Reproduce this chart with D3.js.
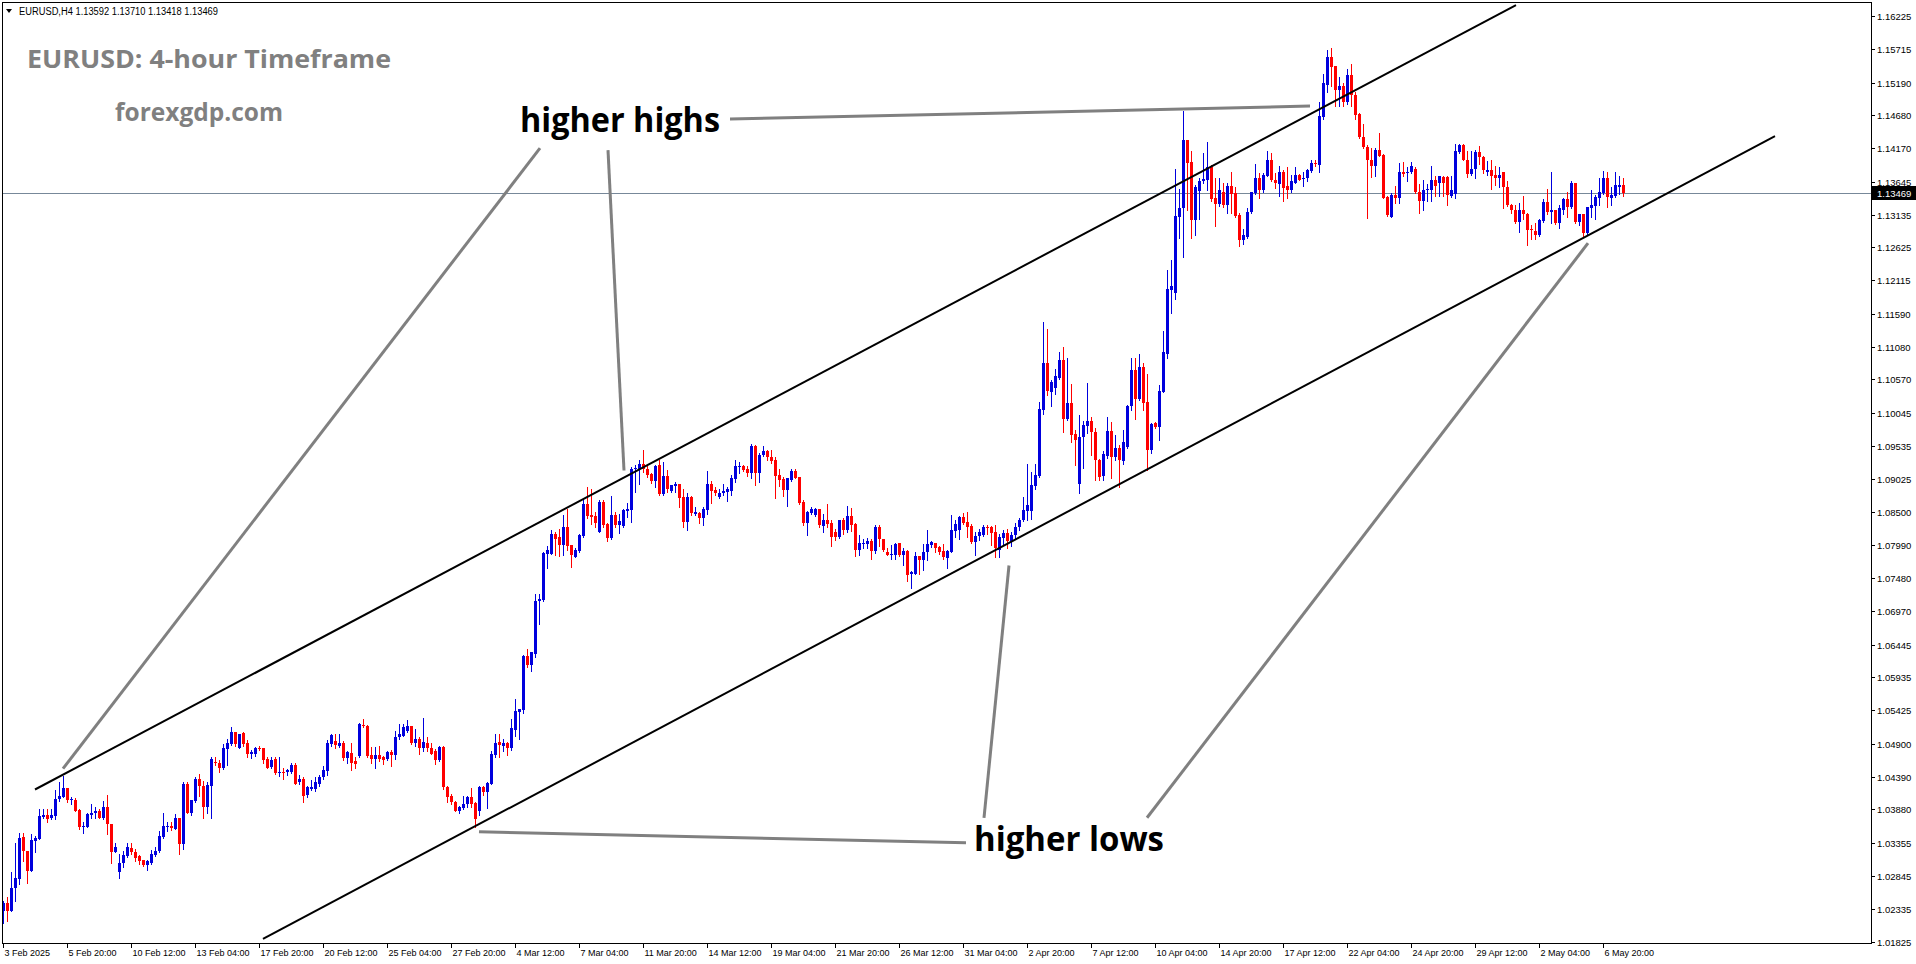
<!DOCTYPE html>
<html><head><meta charset="utf-8">
<script src="https://cdn.jsdelivr.net/npm/d3@7"></script>
<style>body{margin:0;background:#fff;overflow:hidden}svg{display:block}</style>
</head><body>
<svg id="chart" width="1916" height="964"></svg>
<script>
// EURUSD H4 candles, 3 Feb 2025 .. 7 May 2025 (index = bar number)
const open=[
1.0230,1.0243,1.0230,1.0265,1.0279,1.0345,1.0324,1.0292,1.0339,1.0342,
1.0376,1.0379,1.0374,1.0378,1.0404,1.0408,1.0421,1.0402,1.0402,1.0387,
1.0360,1.0360,1.0380,1.0383,1.0385,1.0374,1.0392,1.0365,1.0322,1.0290,
1.0304,1.0316,1.0328,1.0322,1.0315,1.0309,1.0302,1.0305,1.0317,1.0324,
1.0345,1.0360,1.0362,1.0357,1.0374,1.0334,1.0428,1.0382,1.0401,1.0435,
1.0424,1.0392,1.0425,1.0462,1.0461,1.0452,1.0482,1.0490,1.0508,1.0484,
1.0507,1.0491,1.0474,1.0474,1.0484,1.0483,1.0466,1.0454,1.0466,1.0446,
1.0447,1.0446,1.0447,1.0457,1.0430,1.0435,1.0410,1.0420,1.0420,1.0428,
1.0438,1.0448,1.0490,1.0495,1.0487,1.0492,1.0468,1.0476,1.0464,1.0471,
1.0520,1.0518,1.0473,1.0466,1.0473,1.0469,1.0466,1.0478,1.0473,1.0500,
1.0503,1.0510,1.0518,1.0492,1.0497,1.0484,1.0492,1.0483,1.0479,1.0465,
1.0485,1.0423,1.0409,1.0399,1.0385,1.0390,1.0396,1.0408,1.0398,1.0385,
1.0423,1.0415,1.0428,1.0472,1.0493,1.0486,1.0491,1.0483,1.0512,1.0540,
1.0542,1.0626,1.0612,1.0630,1.0712,1.0714,1.0785,1.0786,1.0816,1.0812,
1.0799,1.0828,1.0799,1.0781,1.0790,1.0813,1.0863,1.0846,1.0844,1.0820,
1.0867,1.0832,1.0811,1.0846,1.0830,1.0829,1.0853,1.0854,1.0917,1.0918,
1.0926,1.0918,1.0910,1.0899,1.0924,1.0879,1.0907,1.0884,1.0891,1.0894,
1.0874,1.0835,1.0874,1.0847,1.0849,1.0842,1.0854,1.0895,1.0885,1.0874,
1.0881,1.0882,1.0884,1.0902,1.0921,1.0922,1.0918,1.0912,1.0953,1.0912,
1.0939,1.0945,1.0936,1.0931,1.0908,1.0902,1.0885,1.0900,1.0915,1.0905,
1.0866,1.0834,1.0849,1.0846,1.0855,1.0829,1.0838,1.0833,1.0819,1.0812,
1.0838,1.0822,1.0844,1.0832,1.0791,1.0801,1.0801,1.0806,1.0790,1.0828,
1.0808,1.0789,1.0784,1.0784,1.0802,1.0784,1.0790,1.0755,1.0755,1.0782,
1.0776,1.0788,1.0800,1.0802,1.0796,1.0790,1.0779,1.0789,1.0821,1.0822,
1.0843,1.0835,1.0829,1.0804,1.0813,1.0815,1.0828,1.0828,1.0820,1.0791,
1.0810,1.0818,1.0805,1.0815,1.0827,1.0838,1.0853,1.0853,1.0891,1.0907,
1.1009,1.1082,1.1038,1.1043,1.1059,1.1088,1.0996,1.1020,1.0972,1.0895,
1.0967,1.0984,1.0993,1.0976,1.0932,1.0907,1.0938,1.0977,1.0937,1.0950,
1.0930,1.0952,1.1015,1.1071,1.1026,1.1077,1.1022,1.0948,1.0989,1.0983,
1.1038,1.1097,1.1196,1.1192,1.1310,1.1323,1.1429,1.1396,1.1305,1.1350,
1.1365,1.1367,1.1388,1.1339,1.1330,1.1348,1.1329,1.1358,1.1347,1.1313,
1.1274,1.1278,1.1317,1.1347,1.1370,1.1351,1.1374,1.1399,1.1368,1.1361,
1.1380,1.1358,1.1351,1.1363,1.1375,1.1370,1.1370,1.1382,1.1394,1.1391,
1.1465,1.1515,1.1559,1.1544,1.1508,1.1514,1.1489,1.1531,1.1500,1.1470,
1.1435,1.1419,1.1399,1.1389,1.1414,1.1406,1.1341,1.1310,1.1344,1.1339,
1.1380,1.1378,1.1380,1.1384,1.1348,1.1335,1.1351,1.1352,1.1368,1.1362,
1.1372,1.1372,1.1342,1.1346,1.1411,1.1422,1.1399,1.1376,1.1385,1.1411,
1.1403,1.1380,1.1383,1.1375,1.1371,1.1380,1.1357,1.1328,1.1321,1.1302,
1.1320,1.1315,1.1291,1.1288,1.1282,1.1304,1.1333,1.1318,1.1320,1.1301,
1.1321,1.1337,1.1325,1.1362,1.1302,1.1314,1.1285,1.1323,1.1327,1.1339,
1.1347,1.1370,1.1340,1.1342,1.1357,1.13592];
const high=[
1.0246,1.0251,1.0290,1.0336,1.0352,1.0352,1.0324,1.0349,1.0347,1.0388,
1.0388,1.0388,1.0388,1.0418,1.0430,1.0440,1.0422,1.0407,1.0405,1.0388,
1.0368,1.0382,1.0397,1.0392,1.0388,1.0401,1.0410,1.0365,1.0336,1.0318,
1.0324,1.0336,1.0336,1.0326,1.0317,1.0310,1.0310,1.0325,1.0330,1.0355,
1.0382,1.0368,1.0368,1.0381,1.0375,1.0430,1.0430,1.0402,1.0439,1.0443,
1.0432,1.0430,1.0469,1.0470,1.0465,1.0490,1.0497,1.0516,1.0508,1.0506,
1.0508,1.0496,1.0480,1.0485,1.0487,1.0484,1.0469,1.0469,1.0469,1.0469,
1.0452,1.0451,1.0460,1.0461,1.0442,1.0438,1.0425,1.0434,1.0439,1.0442,
1.0455,1.0496,1.0506,1.0506,1.0506,1.0494,1.0479,1.0492,1.0469,1.0522,
1.0528,1.0520,1.0485,1.0485,1.0487,1.0471,1.0479,1.0480,1.0510,1.0521,
1.0521,1.0527,1.0518,1.0513,1.0500,1.0531,1.0500,1.0492,1.0482,1.0487,
1.0487,1.0425,1.0412,1.0401,1.0394,1.0409,1.0409,1.0421,1.0399,1.0425,
1.0425,1.0431,1.0479,1.0505,1.0505,1.0498,1.0493,1.0529,1.0560,1.0545,
1.0628,1.0638,1.0633,1.0723,1.0723,1.0789,1.0798,1.0822,1.0820,1.0825,
1.0846,1.0856,1.0799,1.0794,1.0816,1.0870,1.0889,1.0887,1.0851,1.0869,
1.0870,1.0833,1.0875,1.0851,1.0848,1.0855,1.0864,1.0921,1.0924,1.0931,
1.0948,1.0922,1.0911,1.0924,1.0932,1.0929,1.0916,1.0893,1.0898,1.0895,
1.0886,1.0880,1.0875,1.0859,1.0851,1.0859,1.0915,1.0899,1.0889,1.0886,
1.0895,1.0889,1.0908,1.0931,1.0928,1.0924,1.0922,1.0956,1.0955,1.0942,
1.0953,1.0947,1.0947,1.0937,1.0918,1.0905,1.0904,1.0917,1.0918,1.0905,
1.0869,1.0853,1.0859,1.0857,1.0856,1.0847,1.0863,1.0839,1.0825,1.0839,
1.0841,1.0860,1.0857,1.0833,1.0815,1.0808,1.0811,1.0808,1.0830,1.0830,
1.0809,1.0794,1.0799,1.0802,1.0803,1.0794,1.0791,1.0759,1.0789,1.0783,
1.0801,1.0822,1.0806,1.0803,1.0798,1.0801,1.0792,1.0846,1.0839,1.0844,
1.0849,1.0851,1.0832,1.0820,1.0825,1.0830,1.0830,1.0829,1.0830,1.0816,
1.0822,1.0825,1.0820,1.0833,1.0842,1.0874,1.0925,1.0913,1.0925,1.1022,
1.1147,1.1135,1.1056,1.1073,1.1100,1.1108,1.1091,1.1050,1.0978,1.1002,
1.0993,1.1051,1.0998,1.0981,1.0934,1.0945,1.0999,1.0991,1.0970,1.0955,
1.0979,1.1017,1.1090,1.1090,1.1097,1.1082,1.1066,1.0990,1.0991,1.1048,
1.1133,1.1228,1.1243,1.1384,1.1354,1.1474,1.1430,1.1413,1.1360,1.1370,
1.1409,1.1426,1.1391,1.1370,1.1370,1.1363,1.1362,1.1379,1.1356,1.1316,
1.1291,1.1323,1.1349,1.1392,1.1378,1.1378,1.1413,1.1410,1.1378,1.1389,
1.1383,1.1387,1.1375,1.1388,1.1377,1.1380,1.1384,1.1399,1.1398,1.1488,
1.1532,1.1569,1.1572,1.1545,1.1528,1.1518,1.1540,1.1548,1.1505,1.1471,
1.1455,1.1422,1.1417,1.1417,1.1440,1.1408,1.1342,1.1347,1.1358,1.1394,
1.1396,1.1387,1.1396,1.1387,1.1361,1.1368,1.1361,1.1389,1.1374,1.1373,
1.1373,1.1373,1.1373,1.1423,1.1424,1.1424,1.1413,1.1413,1.1414,1.1420,
1.1405,1.1397,1.1399,1.1389,1.1388,1.1380,1.1365,1.1330,1.1328,1.1332,
1.1342,1.1316,1.1297,1.1301,1.1306,1.1337,1.1354,1.1380,1.1321,1.1328,
1.1339,1.1349,1.1365,1.1363,1.1315,1.1315,1.1326,1.1351,1.1344,1.1370,
1.1382,1.1379,1.1356,1.1379,1.1373,1.13710];
const low=[
1.0212,1.0214,1.0230,1.0246,1.0272,1.0308,1.0273,1.0292,1.0321,1.0342,
1.0375,1.0369,1.0373,1.0373,1.0401,1.0407,1.0399,1.0396,1.0385,1.0357,
1.0352,1.0360,1.0375,1.0375,1.0374,1.0373,1.0349,1.0305,1.0321,1.0282,
1.0298,1.0314,1.0318,1.0308,1.0303,1.0300,1.0293,1.0303,1.0316,1.0322,
1.0344,1.0355,1.0356,1.0357,1.0318,1.0326,1.0382,1.0380,1.0400,1.0409,
1.0375,1.0383,1.0374,1.0457,1.0447,1.0451,1.0457,1.0489,1.0487,1.0484,
1.0487,1.0469,1.0468,1.0471,1.0480,1.0461,1.0453,1.0453,1.0443,1.0440,
1.0435,1.0442,1.0445,1.0427,1.0428,1.0400,1.0408,1.0418,1.0417,1.0425,
1.0435,1.0442,1.0487,1.0484,1.0485,1.0465,1.0461,1.0449,1.0452,1.0469,
1.0516,1.0469,1.0461,1.0453,1.0464,1.0459,1.0465,1.0456,1.0466,1.0497,
1.0503,1.0509,1.0490,1.0487,1.0475,1.0479,1.0479,1.0474,1.0459,1.0464,
1.0419,1.0400,1.0397,1.0385,1.0382,1.0388,1.0391,1.0391,1.0361,1.0380,
1.0410,1.0390,1.0427,1.0470,1.0469,1.0479,1.0472,1.0481,1.0503,1.0497,
1.0538,1.0610,1.0603,1.0625,1.0677,1.0713,1.0764,1.0785,1.0784,1.0782,
1.0784,1.0792,1.0765,1.0780,1.0789,1.0812,1.0842,1.0832,1.0827,1.0820,
1.0828,1.0806,1.0809,1.0828,1.0818,1.0828,1.0843,1.0835,1.0882,1.0895,
1.0913,1.0905,1.0896,1.0889,1.0877,1.0877,1.0882,1.0882,1.0882,1.0859,
1.0827,1.0822,1.0846,1.0846,1.0834,1.0830,1.0848,1.0865,1.0877,1.0872,
1.0877,1.0868,1.0877,1.0898,1.0912,1.0915,1.0907,1.0903,1.0893,1.0898,
1.0938,1.0932,1.0927,1.0873,1.0891,1.0875,1.0860,1.0899,1.0903,1.0863,
1.0830,1.0815,1.0847,1.0844,1.0828,1.0820,1.0828,1.0798,1.0807,1.0811,
1.0816,1.0820,1.0821,1.0782,1.0784,1.0794,1.0794,1.0777,1.0787,1.0798,
1.0790,1.0784,1.0777,1.0777,1.0782,1.0768,1.0744,1.0733,1.0755,1.0755,
1.0761,1.0776,1.0797,1.0789,1.0785,1.0778,1.0764,1.0788,1.0812,1.0808,
1.0832,1.0812,1.0802,1.0784,1.0807,1.0813,1.0817,1.0799,1.0780,1.0780,
1.0800,1.0795,1.0798,1.0810,1.0822,1.0836,1.0838,1.0840,1.0887,1.0906,
1.1004,1.1033,1.1016,1.1035,1.1057,1.0976,1.0994,1.0960,1.0924,1.0881,
1.0919,1.0973,1.0940,1.0900,1.0901,1.0900,1.0935,1.0903,1.0931,1.0890,
1.0926,1.0950,1.1010,1.0996,1.1025,1.1010,1.0916,1.0943,1.0981,1.0963,
1.1037,1.1091,1.1160,1.1182,1.1277,1.1247,1.1321,1.1277,1.1282,1.1306,
1.1363,1.1352,1.1334,1.1296,1.1327,1.1325,1.1316,1.1316,1.1310,1.1264,
1.1268,1.1277,1.1316,1.1346,1.1339,1.1349,1.1373,1.1366,1.1355,1.1343,
1.1335,1.1339,1.1349,1.1362,1.1367,1.1358,1.1366,1.1380,1.1389,1.1379,
1.1463,1.1505,1.1513,1.1482,1.1482,1.1482,1.1486,1.1482,1.1462,1.1432,
1.1417,1.1308,1.1372,1.1373,1.1404,1.1339,1.1311,1.1309,1.1331,1.1331,
1.1373,1.1365,1.1378,1.1347,1.1316,1.1321,1.1334,1.1334,1.1343,1.1342,
1.1342,1.1328,1.1341,1.1339,1.1410,1.1398,1.1372,1.1375,1.1370,1.1393,
1.1378,1.1375,1.1353,1.1359,1.1357,1.1323,1.1327,1.1316,1.1301,1.1287,
1.1306,1.1266,1.1275,1.1275,1.1280,1.1302,1.1315,1.1300,1.1299,1.1292,
1.1315,1.1310,1.1323,1.1301,1.1297,1.1279,1.1284,1.1309,1.1306,1.1328,
1.1346,1.1325,1.1328,1.1341,1.1346,1.13418];
const close=[
1.0243,1.0230,1.0266,1.0281,1.0344,1.0324,1.0292,1.0340,1.0343,1.0378,
1.0380,1.0373,1.0380,1.0404,1.0409,1.0421,1.0402,1.0404,1.0386,1.0360,
1.0362,1.0381,1.0383,1.0386,1.0375,1.0391,1.0365,1.0322,1.0330,1.0304,
1.0317,1.0329,1.0322,1.0312,1.0308,1.0302,1.0307,1.0318,1.0324,1.0346,
1.0362,1.0362,1.0359,1.0375,1.0334,1.0428,1.0383,1.0402,1.0435,1.0424,
1.0392,1.0426,1.0467,1.0460,1.0453,1.0483,1.0491,1.0508,1.0490,1.0506,
1.0490,1.0474,1.0477,1.0483,1.0483,1.0465,1.0453,1.0465,1.0445,1.0447,
1.0445,1.0449,1.0457,1.0428,1.0436,1.0409,1.0423,1.0423,1.0430,1.0439,
1.0449,1.0491,1.0504,1.0488,1.0492,1.0468,1.0477,1.0461,1.0458,1.0521,
1.0518,1.0471,1.0466,1.0473,1.0466,1.0465,1.0478,1.0473,1.0501,1.0505,
1.0517,1.0518,1.0492,1.0497,1.0484,1.0493,1.0484,1.0475,1.0465,1.0485,
1.0423,1.0408,1.0399,1.0385,1.0391,1.0396,1.0408,1.0397,1.0373,1.0423,
1.0415,1.0429,1.0474,1.0491,1.0488,1.0491,1.0484,1.0514,1.0541,1.0544,
1.0627,1.0612,1.0633,1.0713,1.0716,1.0787,1.0791,1.0816,1.0809,1.0799,
1.0828,1.0798,1.0784,1.0791,1.0815,1.0863,1.0844,1.0843,1.0833,1.0867,
1.0830,1.0811,1.0846,1.0830,1.0836,1.0854,1.0856,1.0918,1.0920,1.0926,
1.0917,1.0908,1.0899,1.0922,1.0879,1.0907,1.0886,1.0892,1.0894,1.0873,
1.0835,1.0874,1.0849,1.0850,1.0842,1.0855,1.0895,1.0884,1.0881,1.0881,
1.0884,1.0886,1.0903,1.0922,1.0922,1.0916,1.0912,1.0953,1.0912,1.0939,
1.0945,1.0936,1.0930,1.0907,1.0900,1.0885,1.0903,1.0915,1.0904,1.0864,
1.0833,1.0851,1.0855,1.0855,1.0830,1.0838,1.0832,1.0812,1.0812,1.0838,
1.0822,1.0844,1.0830,1.0791,1.0803,1.0803,1.0806,1.0790,1.0828,1.0808,
1.0791,1.0784,1.0786,1.0801,1.0784,1.0790,1.0752,1.0758,1.0782,1.0776,
1.0789,1.0801,1.0804,1.0795,1.0788,1.0780,1.0790,1.0822,1.0832,1.0843,
1.0834,1.0828,1.0804,1.0813,1.0820,1.0828,1.0827,1.0818,1.0794,1.0812,
1.0818,1.0805,1.0815,1.0828,1.0838,1.0854,1.0861,1.0893,1.0908,1.1011,
1.1082,1.1039,1.1053,1.1062,1.1088,1.0996,1.1020,1.0970,1.0963,1.0967,
1.0986,1.0993,1.0975,1.0932,1.0906,1.0941,1.0977,1.0937,1.0950,1.0931,
1.0960,1.1016,1.1071,1.1026,1.1077,1.1020,1.0947,1.0988,1.0983,1.1039,
1.1099,1.1198,1.1202,1.1311,1.1323,1.1429,1.1394,1.1305,1.1356,1.1366,
1.1369,1.1388,1.1337,1.1330,1.1351,1.1329,1.1358,1.1346,1.1311,1.1274,
1.1282,1.1318,1.1348,1.1370,1.1351,1.1375,1.1399,1.1367,1.1362,1.1380,
1.1355,1.1351,1.1365,1.1375,1.1368,1.1371,1.1383,1.1394,1.1392,1.1467,
1.1519,1.1559,1.1543,1.1508,1.1514,1.1489,1.1531,1.1500,1.1469,1.1434,
1.1419,1.1398,1.1389,1.1414,1.1405,1.1340,1.1313,1.1344,1.1339,1.1380,
1.1377,1.1380,1.1389,1.1348,1.1335,1.1352,1.1353,1.1368,1.1358,1.1373,
1.1363,1.1344,1.1352,1.1413,1.1422,1.1399,1.1376,1.1385,1.1411,1.1403,
1.1383,1.1383,1.1373,1.1371,1.1375,1.1357,1.1328,1.1320,1.1302,1.1320,
1.1315,1.1290,1.1290,1.1282,1.1305,1.1333,1.1318,1.1320,1.1300,1.1323,
1.1337,1.1326,1.1362,1.1302,1.1314,1.1285,1.1325,1.1328,1.1341,1.1349,
1.1370,1.1341,1.1344,1.1359,1.1359,1.13469];

// x-axis labels, one every 16 bars
const xTickLabels=["3 Feb 2025","5 Feb 20:00","10 Feb 12:00","13 Feb 04:00","17 Feb 20:00","20 Feb 12:00","25 Feb 04:00","27 Feb 20:00","4 Mar 12:00","7 Mar 04:00","11 Mar 20:00","14 Mar 12:00","19 Mar 04:00","21 Mar 20:00","26 Mar 12:00","31 Mar 04:00","2 Apr 20:00","7 Apr 12:00","10 Apr 04:00","14 Apr 20:00","17 Apr 12:00","22 Apr 04:00","24 Apr 20:00","29 Apr 12:00","2 May 04:00","6 May 20:00"];
const xTickStep=16;
const yTickValues=[1.16225,1.15715,1.15190,1.14680,1.14170,1.13645,1.13135,1.12625,1.12115,1.11590,1.11080,1.10570,1.10045,1.09535,1.09025,1.08500,1.07990,1.07480,1.06970,1.06445,1.05935,1.05425,1.04900,1.04390,1.03880,1.03355,1.02845,1.02335,1.01825];
const lastPrice=1.13469;
const header="EURUSD,H4  1.13592 1.13710 1.13418 1.13469";

// channel lines [barIndex, price]
const channelUpper=[[8,1.0419],[378.25,1.16396]];
const channelLower=[[65,1.01866],[443,1.14356]];
// pointer lines from the labels [barIndex, price]
const pointerLines=[
  [[134.25,1.14169],[15,1.04514]],
  [[151.25,1.14138],[155.25,1.09154]],
  [[181.75,1.14621],[326.75,1.14823]],
  [[119,1.03532],[240.75,1.03361]],
  [[251.5,1.07675],[245.25,1.03750]],
  [[396.25,1.12690],[286,1.03750]]
];

const svg=d3.select("#chart");
const W=1916,H=964;
const plot={l:2,t:2,r:1871,b:943};
const x=d3.scaleLinear().domain([0,1]).range([3,7]);
const y=d3.scaleLinear().domain([1.01825,1.16225]).range([941.5,16]);

const BULL="#0000dd",BEAR="#ff0000";
const bars=d3.range(open.length).map(i=>({i,o:open[i],h:high[i],l:low[i],c:close[i]}));

// price line (bid)
svg.append("line").attr("x1",plot.l).attr("x2",plot.r)
  .attr("y1",Math.round(y(lastPrice))+0.5).attr("y2",Math.round(y(lastPrice))+0.5)
  .attr("stroke","#778899").attr("stroke-width",1);

const g=svg.append("g");
g.selectAll("rect.w").data(bars).join("rect").attr("class","w")
  .attr("x",d=>Math.round(x(d.i)))
  .attr("y",d=>Math.round(y(d.h)))
  .attr("width",1)
  .attr("height",d=>Math.max(1,Math.round(y(d.l))-Math.round(y(d.h))+1))
  .attr("fill",d=>d.c>=d.o?BULL:BEAR);
g.selectAll("rect.b").data(bars).join("rect").attr("class","b")
  .attr("x",d=>Math.round(x(d.i))-1)
  .attr("y",d=>Math.round(y(Math.max(d.o,d.c))))
  .attr("width",3)
  .attr("height",d=>Math.max(1,Math.round(y(Math.min(d.o,d.c)))-Math.round(y(Math.max(d.o,d.c)))))
  .attr("fill",d=>d.c>=d.o?BULL:BEAR);

// channel lines
const line=d3.line().x(d=>x(d[0])).y(d=>y(d[1]));
[channelUpper,channelLower].forEach(c=>{
  svg.append("path").attr("d",line(c)).attr("stroke","#000").attr("stroke-width",2).attr("fill","none");
});
// pointer lines
pointerLines.forEach(c=>{
  svg.append("path").attr("d",line(c)).attr("stroke","#808080").attr("stroke-width",3).attr("fill","none");
});

// frame
svg.append("rect").attr("x",plot.l+0.5).attr("y",plot.t+0.5)
  .attr("width",plot.r-plot.l).attr("height",plot.b-plot.t)
  .attr("fill","none").attr("stroke","#000").attr("stroke-width",1);

// y axis
const ya=svg.append("g").attr("font-family","Tahoma, 'Liberation Sans', Arial, sans-serif").attr("font-size",9.5).attr("fill","#000");
yTickValues.forEach(v=>{
  const yy=Math.round(y(v))+0.5;
  ya.append("line").attr("x1",plot.r).attr("x2",plot.r+4).attr("y1",yy).attr("y2",yy).attr("stroke","#000");
  ya.append("text").attr("x",plot.r+6).attr("y",yy).attr("dy","0.35em").text(v.toFixed(5));
});
// last price box
const ly=Math.round(y(lastPrice));
svg.append("rect").attr("x",plot.r+1).attr("y",ly-7).attr("width",W-plot.r-1).attr("height",14).attr("fill","#000");
svg.append("text").attr("x",plot.r+6).attr("y",ly+0.5).attr("dy","0.35em")
  .attr("font-family","Tahoma, 'Liberation Sans', Arial, sans-serif").attr("font-size",9.5).attr("fill","#fff").text(lastPrice.toFixed(5));

// x axis
const xa=svg.append("g").attr("font-family","Tahoma, 'Liberation Sans', Arial, sans-serif").attr("font-size",9).attr("fill","#000");
xTickLabels.forEach((t,k)=>{
  const xx=Math.round(x(k*xTickStep))+0.5;
  xa.append("line").attr("x1",xx).attr("x2",xx).attr("y1",plot.b).attr("y2",plot.b+5).attr("stroke","#000");
  xa.append("text").attr("x",xx+1).attr("y",956).text(t);
});

// header
svg.append("path").attr("d","M6,9 L12,9 L9,13 Z").attr("fill","#000");
svg.append("text").attr("x",19).attr("y",14.5).attr("font-family","Tahoma, 'Liberation Sans', Arial, sans-serif")
  .attr("font-size",10).attr("textLength",199).attr("lengthAdjust","spacingAndGlyphs").attr("fill","#000").text(header);

// titles
const tf="'Open Sans', 'Noto Sans', sans-serif";
svg.append("text").attr("x",27).attr("y",68).attr("font-family",tf).attr("font-weight",700).attr("font-size",25)
  .attr("fill","#808080").attr("textLength",364).attr("lengthAdjust","spacingAndGlyphs").text("EURUSD: 4-hour Timeframe");
svg.append("text").attr("x",115).attr("y",121).attr("font-family",tf).attr("font-weight",700).attr("font-size",25)
  .attr("fill","#808080").attr("textLength",168).attr("lengthAdjust","spacingAndGlyphs").text("forexgdp.com");
svg.append("text").attr("x",520).attr("y",132).attr("font-family",tf).attr("font-weight",700).attr("font-size",34)
  .attr("fill","#000").attr("textLength",200).attr("lengthAdjust","spacingAndGlyphs").text("higher highs");
svg.append("text").attr("x",974).attr("y",851).attr("font-family",tf).attr("font-weight",700).attr("font-size",34)
  .attr("fill","#000").attr("textLength",190).attr("lengthAdjust","spacingAndGlyphs").text("higher lows");
</script>
</body></html>
